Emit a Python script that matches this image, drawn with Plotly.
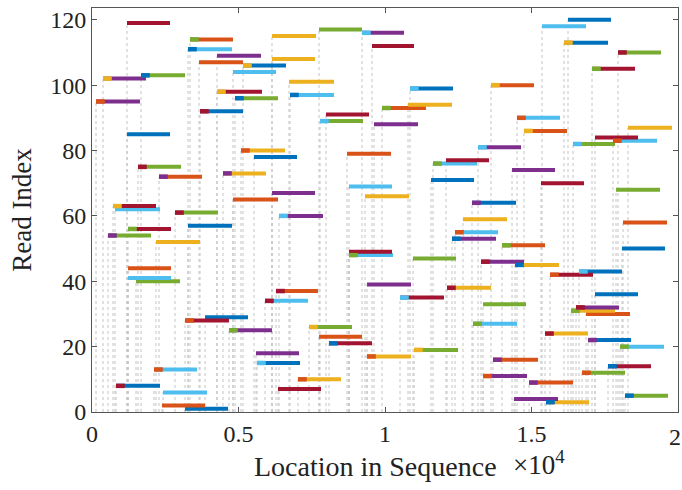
import plotly.graph_objects as go

# Read index (y) of each read
read_idx = list(range(1, 121))
# Start / end location of each read in the sequence
read_start = [3174, 2389, 15495, 14403, 18191, 2423, 6348, 819, 14915, 7031,
              13345, 16724, 2116, 17611, 5631, 13686, 9386, 5597, 10990, 18021,
              8089, 16928, 7748, 15461, 4676, 7406, 13004, 3174, 3857, 16860,
              16348, 16519, 13345, 5904, 10512, 17167, 6280, 12116, 9386, 1502,
              1229, 15632, 16621, 1229, 14437, 13277, 10956, 8771, 8771, 18089,
              13993, 2184, 12287, 546, 12389, 1229, 3276, 18123, 12662, 6382,
              2833, 785, 717, 12969, 4812, 9317, 6143, 17884, 8771, 15324,
              11570, 2287, 4471, 14335, 1570, 11638, 12082, 5529, 8703, 5085,
              13174, 16417, 17782, 17167, 1195, 14744, 18294, 9625, 7782, 14505,
              7986, 3686, 9898, 10785, 137, 4881, 6758, 4266, 10853, 13618,
              6724, 375, 1672, 4812, 17065, 5154, 3652, 6143, 4266, 17952,
              3276, 9556, 16109, 3345, 6143, 9215, 7748, 15359, 1195, 16246]
read_end = [4642, 3857, 16963, 15905, 19659, 3925, 7816, 2321, 16417, 8498,
            14847, 18191, 3584, 19079, 7099, 15222, 10887, 7065, 12492, 19522,
            9556, 18396, 9215, 16928, 6143, 8874, 14505, 4676, 5324, 18362,
            17850, 17987, 14812, 7372, 12014, 18635, 7713, 13618, 10887, 3003,
            2696, 17099, 18089, 2696, 15939, 14744, 12423, 10273, 10239, 19556,
            15461, 3686, 13789, 2014, 13857, 2696, 4778, 19625, 14164, 7884,
            4300, 2321, 2184, 14471, 6348, 10819, 7611, 19386, 10239, 16792,
            13038, 3754, 5939, 15802, 3038, 13140, 13550, 6997, 10205, 6587,
            14642, 17850, 19283, 18635, 2662, 16212, 19795, 11126, 9249, 15973,
            9454, 5154, 11399, 12287, 1638, 6348, 8259, 5802, 12321, 15085,
            8259, 1843, 3174, 6280, 18533, 6621, 5154, 7611, 5768, 19420,
            4778, 10990, 17611, 4812, 7645, 10649, 9215, 16860, 2662, 17713]
# colour code of each read, and of the short head mark at its start ('' = none)
read_color = ["B","O","Y","P","G","C","R","B","O","Y",
              "P","G","C","R","B","O","Y","P","G","C",
              "R","B","O","Y","P","G","C","R","B","O",
              "Y","P","G","C","R","B","O","Y","P","G",
              "C","R","B","O","Y","P","G","C","R","B",
              "O","Y","P","G","C","R","B","O","Y","P",
              "G","C","R","B","O","Y","P","G","C","R",
              "B","O","Y","P","G","C","R","B","O","Y",
              "P","G","C","R","B","O","Y","P","G","C",
              "R","B","O","Y","P","G","C","R","B","O",
              "Y","P","G","C","R","B","O","Y","P","G",
              "C","R","B","O","Y","P","G","C","R","B"]
head_color = ["","","B","","B","","","R","P","O",
              "O","O","O","B","C","P","O","","Y","G",
              "B","P","","R","G","Y","G","O","","",
              "G","R","","R","C","","R","R","","",
              "","O","C","","B","R","","G","","",
              "G","","B","P","O","G","","","","C",
              "R","","Y","P","","","","","","",
              "","P","P","","R","G","","","","O",
              "C","C","O","","","Y","","","C","O",
              "","R","G","","O","B","B","Y","C","Y",
              "","Y","B","","G","Y","","","","R",
              "B","","Y","G","","C","","","",""]
x_tick_vals = [0, 5000, 10000, 15000, 20000]
x_tick_text = ["0", "0.5", "1", "1.5", "2"]
y_tick_vals = [0, 20, 40, 60, 80, 100, 120]

COLORS = {"B": "#0072BD", "O": "#D95319", "Y": "#EDB120", "P": "#7E2F8E",
          "G": "#77AC30", "C": "#4DBEEE", "R": "#A2142F"}
HEAD_LEN = 300
TXT = "#222222"
FONT = "Liberation Serif"

fig = go.Figure()

# dotted guide lines from each read start down to the axis
dx, dy = [], []
for s, i in zip(read_start, read_idx):
    dx += [s, s, None]
    dy += [0, i, None]
fig.add_trace(go.Scatter(x=dx, y=dy, mode="lines",
                         line=dict(color="#c4c4c4", width=1, dash="dot"),
                         hoverinfo="skip", showlegend=False))

for code, col in COLORS.items():
    xs, ys = [], []
    for s, e, i, c in zip(read_start, read_end, read_idx, read_color):
        if c == code:
            xs += [s, e, None]
            ys += [i, i, None]
    fig.add_trace(go.Scatter(x=xs, y=ys, mode="lines",
                             line=dict(color=col, width=4),
                             showlegend=False))

for code, col in COLORS.items():
    xs, ys = [], []
    for s, i, h in zip(read_start, read_idx, head_color):
        if h == code:
            xs += [s, s + HEAD_LEN, None]
            ys += [i, i, None]
    fig.add_trace(go.Scatter(x=xs, y=ys, mode="lines",
                             line=dict(color=col, width=4.5),
                             showlegend=False))

axis_common = dict(showline=True, mirror="ticks", linecolor="#555555", linewidth=1,
                   ticks="inside", ticklen=5, tickcolor="#555555",
                   showgrid=False, zeroline=False,
                   tickfont=dict(family=FONT, size=24, color=TXT))

# last x label ("2") sits on the figure edge and is drawn separately below
fig.update_xaxes(range=[0, 20000], tickvals=x_tick_vals[:-1], ticktext=x_tick_text[:-1],
                 **axis_common)
fig.update_yaxes(range=[0, 123.6], tickvals=y_tick_vals,
                 title=dict(text="Read Index", standoff=10,
                            font=dict(family=FONT, size=27, color=TXT)),
                 **axis_common)

fig.add_annotation(text=x_tick_text[-1], x=x_tick_vals[-1], xref="x", yref="paper",
                   y=(412 - 437) / 404, xanchor="center", yanchor="middle", xshift=-3,
                   showarrow=False, font=dict(family=FONT, size=24, color=TXT))
fig.add_annotation(text="Location in Sequence", xref="paper", yref="paper",
                   x=(375 - 92) / 586, y=(412 - 466) / 404, xanchor="center", yanchor="middle",
                   showarrow=False, font=dict(family=FONT, size=28, color=TXT))
fig.add_annotation(text="×10<sup>4</sup>", xref="paper", yref="paper",
                   x=(511 - 92) / 586, y=(412 - 463) / 404, xanchor="left", yanchor="middle",
                   showarrow=False, font=dict(family=FONT, size=27, color=TXT))

fig.update_layout(width=682, height=490, plot_bgcolor="white", paper_bgcolor="white",
                  margin=dict(l=92, r=4, t=8, b=78))

fig.write_html("out.html")
